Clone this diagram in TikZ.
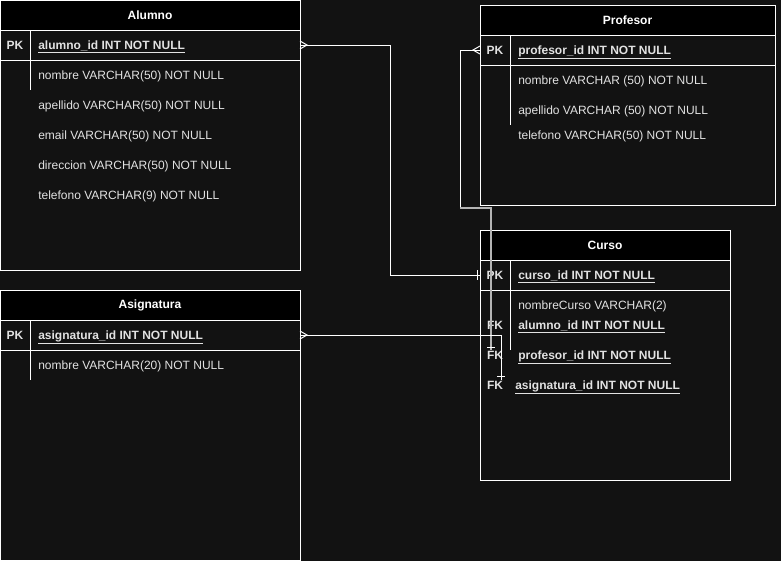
\documentclass[tikz,border=0pt]{standalone}
\usepackage{fontspec}
\setmainfont{Liberation Sans}
\definecolor{bgc}{HTML}{121212}
\definecolor{txtc}{HTML}{E2E2E2}
\definecolor{greyln}{HTML}{B4B4B4}
\begin{document}
\begin{tikzpicture}[x=0.75pt,y=-0.75pt,
  tbl/.style={draw=white, line width=0.75pt, fill=bgc, anchor=north west, inner sep=0pt, outer sep=0pt},
  hdr/.style={draw=white, line width=0.75pt, fill=black, anchor=north west, inner sep=0pt, outer sep=0pt, text=white, font=\fontsize{9pt}{11pt}\selectfont\bfseries},
  rowtxt/.style={anchor=base west, yshift=-3.2pt, inner sep=0pt, text=txtc, font=\fontsize{9pt}{11pt}\selectfont},
  keytxt/.style={anchor=base west, yshift=-3.2pt, inner sep=0pt, text=txtc, font=\fontsize{9pt}{11pt}\selectfont\bfseries},
  lbl/.style={anchor=base, yshift=-3.2pt, inner sep=0pt, text=txtc, font=\fontsize{9pt}{11pt}\selectfont\bfseries},
  ln/.style={draw=white, line width=0.75pt},
  conn/.style={draw=white, line width=0.75pt},
  connG/.style={draw=greyln, line width=0.9pt}
]
\fill[bgc] (0,0) rectangle (781,561);
\useasboundingbox (0,0) rectangle (781,561);

% ---------- Alumno ----------
\node[tbl, minimum width=300*0.75pt, minimum height=270*0.75pt] (alumno) at (0,0) {};
\node[hdr, minimum width=300*0.75pt, minimum height=30*0.75pt] (alumnoH) at (0,0) {Alumno};
\draw[ln] (0,60) -- (300,60);
\draw[ln] (30,30) -- (30,90);
\node[lbl] (alumnoPKl) at (15,45) {PK};
\node[keytxt] (alumnoPK) at (38,45) {\underline{alumno\_id INT NOT NULL}};
\node[rowtxt] (alumno1) at (38,75) {nombre VARCHAR(50) NOT NULL};
\node[rowtxt] (alumno2) at (38,105) {apellido VARCHAR(50) NOT NULL};
\node[rowtxt] (alumno3) at (38,135) {email VARCHAR(50) NOT NULL};
\node[rowtxt] (alumno4) at (38,165) {direccion VARCHAR(50) NOT NULL};
\node[rowtxt] (alumno5) at (38,195) {telefono VARCHAR(9) NOT NULL};

% ---------- Asignatura ----------
\node[tbl, minimum width=300*0.75pt, minimum height=270*0.75pt] (asig) at (0,290) {};
\node[hdr, minimum width=300*0.75pt, minimum height=30*0.75pt] (asigH) at (0,290) {Asignatura};
\draw[ln] (0,350) -- (300,350);
\draw[ln] (30,320) -- (30,380);
\node[lbl] (asigPKl) at (15,335) {PK};
\node[keytxt] (asigPK) at (38,335) {\underline{asignatura\_id INT NOT NULL}};
\node[rowtxt] (asig1) at (38,365) {nombre VARCHAR(20) NOT NULL};

% ---------- Profesor ----------
\node[tbl, minimum width=295*0.75pt, minimum height=200*0.75pt] (prof) at (480,5) {};
\node[hdr, minimum width=295*0.75pt, minimum height=30*0.75pt] (profH) at (480,5) {Profesor};
\draw[ln] (480,65) -- (775,65);
\draw[ln] (510,35) -- (510,125);
\node[lbl] (profPKl) at (495,50) {PK};
\node[keytxt] (profPK) at (518,50) {\underline{profesor\_id INT NOT NULL}};
\node[rowtxt] (prof1) at (518,80) {nombre VARCHAR (50) NOT NULL};
\node[rowtxt] (prof2) at (518,110) {apellido VARCHAR (50) NOT NULL};
\node[rowtxt] (prof3) at (518,135) {telefono VARCHAR(50) NOT NULL};

% ---------- Curso ----------
\node[tbl, minimum width=250*0.75pt, minimum height=250*0.75pt] (curso) at (480,230) {};
\node[hdr, minimum width=250*0.75pt, minimum height=30*0.75pt] (cursoH) at (480,230) {Curso};
\draw[ln] (480,290) -- (730,290);
\draw[ln] (510,260) -- (510,350);
\node[lbl] (cursoPKl) at (495,275) {PK};
\node[keytxt] (cursoPK) at (518,275) {\underline{curso\_id INT NOT NULL}};
\node[rowtxt] (curso1) at (518,305) {nombreCurso VARCHAR(2)};
\node[lbl] (cursoFK1l) at (495,325) {FK};
\node[keytxt] (cursoFK1) at (518,325) {\underline{alumno\_id INT NOT NULL}};
\node[lbl] (cursoFK2l) at (495,355) {FK};
\node[keytxt] (cursoFK2) at (518,355) {\underline{profesor\_id INT NOT NULL}};
\node[lbl] (cursoFK3l) at (495,385) {FK};
\node[keytxt] (cursoFK3) at (515,385) {\underline{asignatura\_id INT NOT NULL}};

% ---------- connector end points ----------
\coordinate (aOut) at (300,45);
\coordinate (aFoot) at (307,45);
\coordinate (cIn) at (480,275);
\coordinate (pOut) at (480,50);
\coordinate (pFoot) at (473,50);
\coordinate (pCorner) at (460,208);
\coordinate (pEnd) at (491,350);
\coordinate (sOut) at (300,335);
\coordinate (sFoot) at (307,335);
\coordinate (sEnd) at (501,380);

% Alumno -> Curso
\draw[conn] (aOut) -- (390,45) -- (390,275) -- (cIn);
\draw[conn] (300,41) -- (aFoot) -- (300,49);
\draw[conn] (477,270) -- (477,280);

% Profesor -> Curso
\draw[conn] (pOut) -- (460,50) -- (pCorner);
\draw[connG] (pCorner) -- (491,208) -- (pEnd);
\draw[conn] (480,46) -- (pFoot) -- (480,54);
\draw[conn] (487,347) -- (495,347);

% Asignatura -> Curso
\draw[conn] (sOut) -- (501,335) -- (sEnd);
\draw[conn] (300,331) -- (sFoot) -- (300,339);
\draw[conn] (497,376) -- (505,376);
\end{tikzpicture}
\end{document}
